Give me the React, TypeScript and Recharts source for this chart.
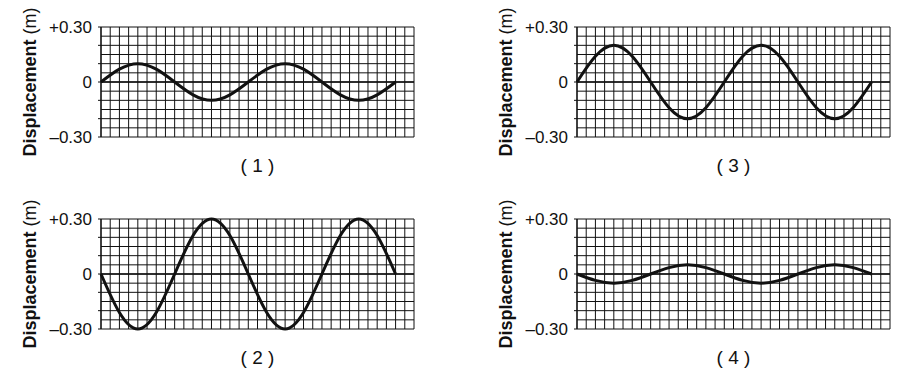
import React from "react";
import { LineChart, Line, XAxis, YAxis, CartesianGrid, ReferenceLine } from "recharts";

// x positions (grid columns) where the wave was read, every 2 columns
const xCols = [0, 2, 4, 6, 8, 10, 12, 14, 16, 18, 20, 22, 24, 26, 28, 30, 32];

// displacement (m)
const wave1 = [0, 0.07, 0.1, 0.07, 0, -0.07, -0.1, -0.07, 0, 0.07, 0.1, 0.07, 0, -0.07, -0.1, -0.07, 0];
const wave2 = [0, -0.21, -0.3, -0.21, 0, 0.21, 0.3, 0.21, 0, -0.21, -0.3, -0.21, 0, 0.21, 0.3, 0.21, 0];
const wave3 = [0, 0.14, 0.2, 0.14, 0, -0.14, -0.2, -0.14, 0, 0.14, 0.2, 0.14, 0, -0.14, -0.2, -0.14, 0];
const wave4 = [0, -0.035, -0.05, -0.035, 0, 0.035, 0.05, 0.035, 0, -0.035, -0.05, -0.035, 0, 0.035, 0.05, 0.035, 0];

// grid and tick values
const gridCols = [0, 1, 2, 3, 4, 5, 6, 7, 8, 9, 10, 11, 12, 13, 14, 15, 16, 17, 18, 19, 20, 21, 22, 23, 24, 25, 26, 27, 28, 29, 30, 31, 32, 33, 34];
const gridRows = [-0.3, -0.25, -0.2, -0.15, -0.1, -0.05, 0, 0.05, 0.1, 0.15, 0.2, 0.25, 0.3];
const yTicks = [-0.3, -0.2, -0.1, 0, 0.1, 0.2, 0.3];
const captions = ["( 1 )", "( 2 )", "( 3 )", "( 4 )"];

const FONT = "Arial, 'Liberation Sans', Helvetica, sans-serif";
const INK = "#111";

const fmtTick = (v: number) => {
  if (Math.abs(v - 0.3) < 1e-9) return "+0.30";
  if (Math.abs(v) < 1e-9) return "0";
  if (Math.abs(v + 0.3) < 1e-9) return "\u20130.30";
  return "";
};

function YTick(props: any) {
  const { x, y, payload } = props;
  const txt = fmtTick(payload.value);
  if (!txt) return null;
  return (
    <text x={x} y={y} dy="0.36em" textAnchor="end" fontFamily={FONT} fontSize={17} fill={INK}>
      {txt}
    </text>
  );
}

function YLabel(props: any) {
  const vb = props.viewBox || { x: 0, y: 0, width: 0, height: 0 };
  const cx = vb.x + 30;
  const cy = vb.y + vb.height / 2;
  return (
    <text
      x={cx}
      y={cy}
      transform={`rotate(-90, ${cx}, ${cy})`}
      textAnchor="middle"
      dominantBaseline="central"
      fontFamily={FONT}
      fontSize={18}
      fill={INK}
    >
      <tspan fontWeight="bold">Displacement</tspan>
      <tspan> (m)</tspan>
    </text>
  );
}

function WavePanel({ values, left, top, caption }: { values: number[]; left: number; top: number; caption: string }) {
  const data = xCols.map((x, i) => ({ x, d: values[i] }));
  return (
    <div style={{ position: "absolute", left, top, width: 420, height: 190 }}>
      <LineChart width={420} height={168} data={data} margin={{ top: 27, right: 6, bottom: 31, left: 0 }}>
        <CartesianGrid
          stroke={INK}
          strokeWidth={1}
          horizontalValues={gridRows}
          verticalValues={gridCols}
        />
        <XAxis dataKey="x" type="number" domain={[0, 34]} ticks={gridCols} interval={0} hide />
        <YAxis
          type="number"
          domain={[-0.3, 0.3]}
          ticks={yTicks}
          width={101}
          tickSize={3}
          tickMargin={6}
          interval={0}
          axisLine={{ stroke: INK, strokeWidth: 1.2 }}
          tickLine={{ stroke: INK }}
          tick={<YTick />}
          label={<YLabel />}
        />
        <ReferenceLine y={0} stroke={INK} strokeWidth={1.6} />
        <Line
          type="natural"
          dataKey="d"
          stroke={INK}
          strokeWidth={3}
          dot={false}
          isAnimationActive={false}
        />
      </LineChart>
      <div
        style={{
          position: "absolute",
          left: 101,
          width: 313,
          top: 155,
          textAlign: "center",
          fontFamily: FONT,
          fontSize: 19,
          color: INK,
          lineHeight: "22px",
        }}
      >
        {caption}
      </div>
    </div>
  );
}

export default function App() {
  return (
    <div style={{ position: "absolute", left: 0, top: 0, width: 900, height: 373, background: "#fff", overflow: "hidden" }}>
      <WavePanel values={wave1} left={0} top={0} caption={captions[0]} />
      <WavePanel values={wave2} left={0} top={192} caption={captions[1]} />
      <WavePanel values={wave3} left={476} top={0} caption={captions[2]} />
      <WavePanel values={wave4} left={476} top={192} caption={captions[3]} />
    </div>
  );
}
